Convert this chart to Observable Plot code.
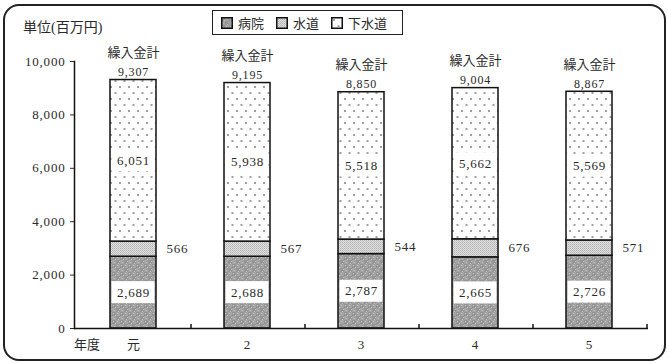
<!DOCTYPE html>
<html>
<head>
<meta charset="utf-8">
<script src="https://cdn.jsdelivr.net/npm/d3@7"></script>
<script src="https://cdn.jsdelivr.net/npm/@observablehq/plot@0.6"></script>
<style>
  html, body { margin: 0; padding: 0; background: #fff; }
  #wrap { position: relative; width: 668px; height: 363px; font-family: "Liberation Serif", "Noto Sans CJK JP", serif; color: #2a2a2a; }
  #border { position: absolute; left: 3px; top: 4px; width: 659px; height: 353px; border: 2px solid #222; border-radius: 16px; box-sizing: content-box; }
  .lbl { position: absolute; font-size: 13px; white-space: nowrap; line-height: 1; }
  #legend { position: absolute; left: 212px; top: 10px; width: 189px; height: 23px; border: 1.5px solid #222; background: #fff; display: flex; align-items: center; font-size: 13px; }
  #legend .item { display: flex; align-items: center; margin-left: 8px; margin-right: 4px; }
  #legend svg { margin-right: 5px; }
  svg.plot { position: absolute; left: 0; top: 0; }
</style>
</head>
<body>
<div id="wrap">
  <div id="chart"></div>
  <div id="border"></div>
  <div class="lbl" id="unit" style="left:23px; top:21px; font-size:14px;"></div>
  <div class="lbl" id="nendo" style="left:74px; top:338px;"></div>
  <div id="legend"></div>
</div>
<script>
const years = ["元", "2", "3", "4", "5"];
const seriesNames = ["病院", "水道", "下水道"];
const hospital = [2689, 2688, 2787, 2665, 2726];
const water = [566, 567, 544, 676, 571];
const sewer = [6051, 5938, 5518, 5662, 5569];
const totals = [9307, 9195, 8850, 9004, 8867];
const yTicks = [0, 2000, 4000, 6000, 8000, 10000];
const unitLabel = "単位(百万円)";
const xTitle = "年度";
const totalTitle = "繰入金計";
const patterns = ["url(#pHosp)", "url(#pWater)", "url(#pSewer)"];

const fmt = d3.format(",");

const rows = years.flatMap((year, i) => [
  {year, series: seriesNames[0], value: hospital[i]},
  {year, series: seriesNames[1], value: water[i]},
  {year, series: seriesNames[2], value: sewer[i]}
]);

const centerLabels = years.flatMap((year, i) => [
  {year, mid: hospital[i] / 2, text: fmt(hospital[i])},
  {year, mid: hospital[i] + water[i] + sewer[i] / 2, text: fmt(sewer[i])}
]);
const waterLabels = years.map((year, i) => ({year, mid: hospital[i] + water[i] / 2, text: fmt(water[i])}));
const totalRows = years.map((year, i) => ({year, total: totals[i], text: fmt(totals[i])}));

const font = "'Liberation Serif', 'Noto Sans CJK JP', serif";

const plot = Plot.plot({
  width: 668,
  height: 363,
  marginLeft: 74,
  marginRight: 20,
  marginTop: 61,
  marginBottom: 35,
  style: {fontFamily: font, fontSize: "13px", color: "#2a2a2a", background: "transparent"},
  x: {domain: years, paddingInner: 0.6, paddingOuter: 0.3, label: null},
  y: {domain: [0, 10000], label: null},
  color: {domain: seriesNames, range: patterns, type: "ordinal"},
  marks: [
    Plot.axisY({ticks: yTicks, tickSize: 4, tickPadding: 5, tickFormat: fmt, fontSize: 13, label: null}),
    Plot.axisX({tickSize: 0, tickPadding: 11, fontSize: 13, label: null}),
    Plot.barY(rows, {x: "year", y: "value", fill: "series", stroke: "#111", strokeWidth: 1.5}),
    Plot.barY(centerLabels, {x: "year", y1: "mid", y2: "mid", fill: "white", insetTop: -11, insetBottom: -11, insetLeft: 1.5, insetRight: 1.5}),
    Plot.text(centerLabels, {x: "year", y: "mid", text: "text", fontSize: 13}),
    Plot.text(waterLabels, {x: "year", y: "mid", text: "text", textAnchor: "start", dx: 33, fontSize: 13}),
    Plot.text(totalRows, {x: "year", y: "total", text: "text", dy: -8, fontSize: 12}),
    Plot.text(totalRows, {x: "year", y: "total", text: () => totalTitle, dy: -27, fontSize: 13}),
    Plot.frame({anchor: "left", stroke: "#111", strokeWidth: 1.5}),
    Plot.ruleY([0], {stroke: "#111", strokeWidth: 1.5}),
    Plot.ruleX(years, {x: d => d, y1: 0, y2: 0, insetTop: -4, dx: 57.5, stroke: "#111", strokeWidth: 1.5})
  ]
});

const defs = `
<defs>
  <pattern id="pHosp" patternUnits="userSpaceOnUse" width="8" height="8">
    <rect width="8" height="8" fill="#a4a4a4"/>
    <rect x="0" y="0" width="4" height="4" fill="#959595"/>
    <rect x="4" y="4" width="4" height="4" fill="#959595"/>
    <rect x="1" y="1" width="1" height="1" fill="#c8c8c8"/>
    <rect x="5" y="1" width="1" height="1" fill="#bcbcbc"/>
    <rect x="3" y="3" width="1" height="1" fill="#c8c8c8"/>
    <rect x="7" y="5" width="1" height="1" fill="#bcbcbc"/>
    <rect x="2" y="6" width="1" height="1" fill="#bcbcbc"/>
    <rect x="6" y="7" width="1" height="1" fill="#c8c8c8"/>
  </pattern>
  <pattern id="pWater" patternUnits="userSpaceOnUse" width="2" height="2">
    <rect width="2" height="2" fill="#e0e0e0"/>
    <rect x="0" y="0" width="1" height="1" fill="#b0b0b0"/>
    <rect x="1" y="1" width="1" height="1" fill="#c4c4c4"/>
  </pattern>
  <pattern id="pSewer" patternUnits="userSpaceOnUse" width="9" height="12">
    <rect width="9" height="12" fill="#ffffff"/>
    <rect x="2" y="2" width="2" height="2" fill="#a0a0a0"/>
    <rect x="6.5" y="8" width="2" height="2" fill="#a0a0a0"/>
  </pattern>
</defs>`;
d3.select(plot).insert("g", ":first-child").html(defs);

// widen numeric labels slightly to resemble the reference's spaced digits
d3.select(plot).selectAll("text").each(function () {
  if (/^[\d,]+$/.test(this.textContent)) d3.select(this).style("letter-spacing", "0.8px");
});

document.getElementById("chart").appendChild(plot);
document.getElementById("unit").textContent = unitLabel;
document.getElementById("nendo").textContent = xTitle;

const legend = d3.select("#legend");
seriesNames.forEach((name, i) => {
  const item = legend.append("div").attr("class", "item");
  const sw = item.append("svg").attr("width", 12).attr("height", 12);
  sw.append("rect").attr("x", 0.75).attr("y", 0.75).attr("width", 10.5).attr("height", 10.5)
    .attr("fill", patterns[i]).attr("stroke", "#111").attr("stroke-width", 1.5);
  item.append("span").text(name);
});
</script>
</body>
</html>
